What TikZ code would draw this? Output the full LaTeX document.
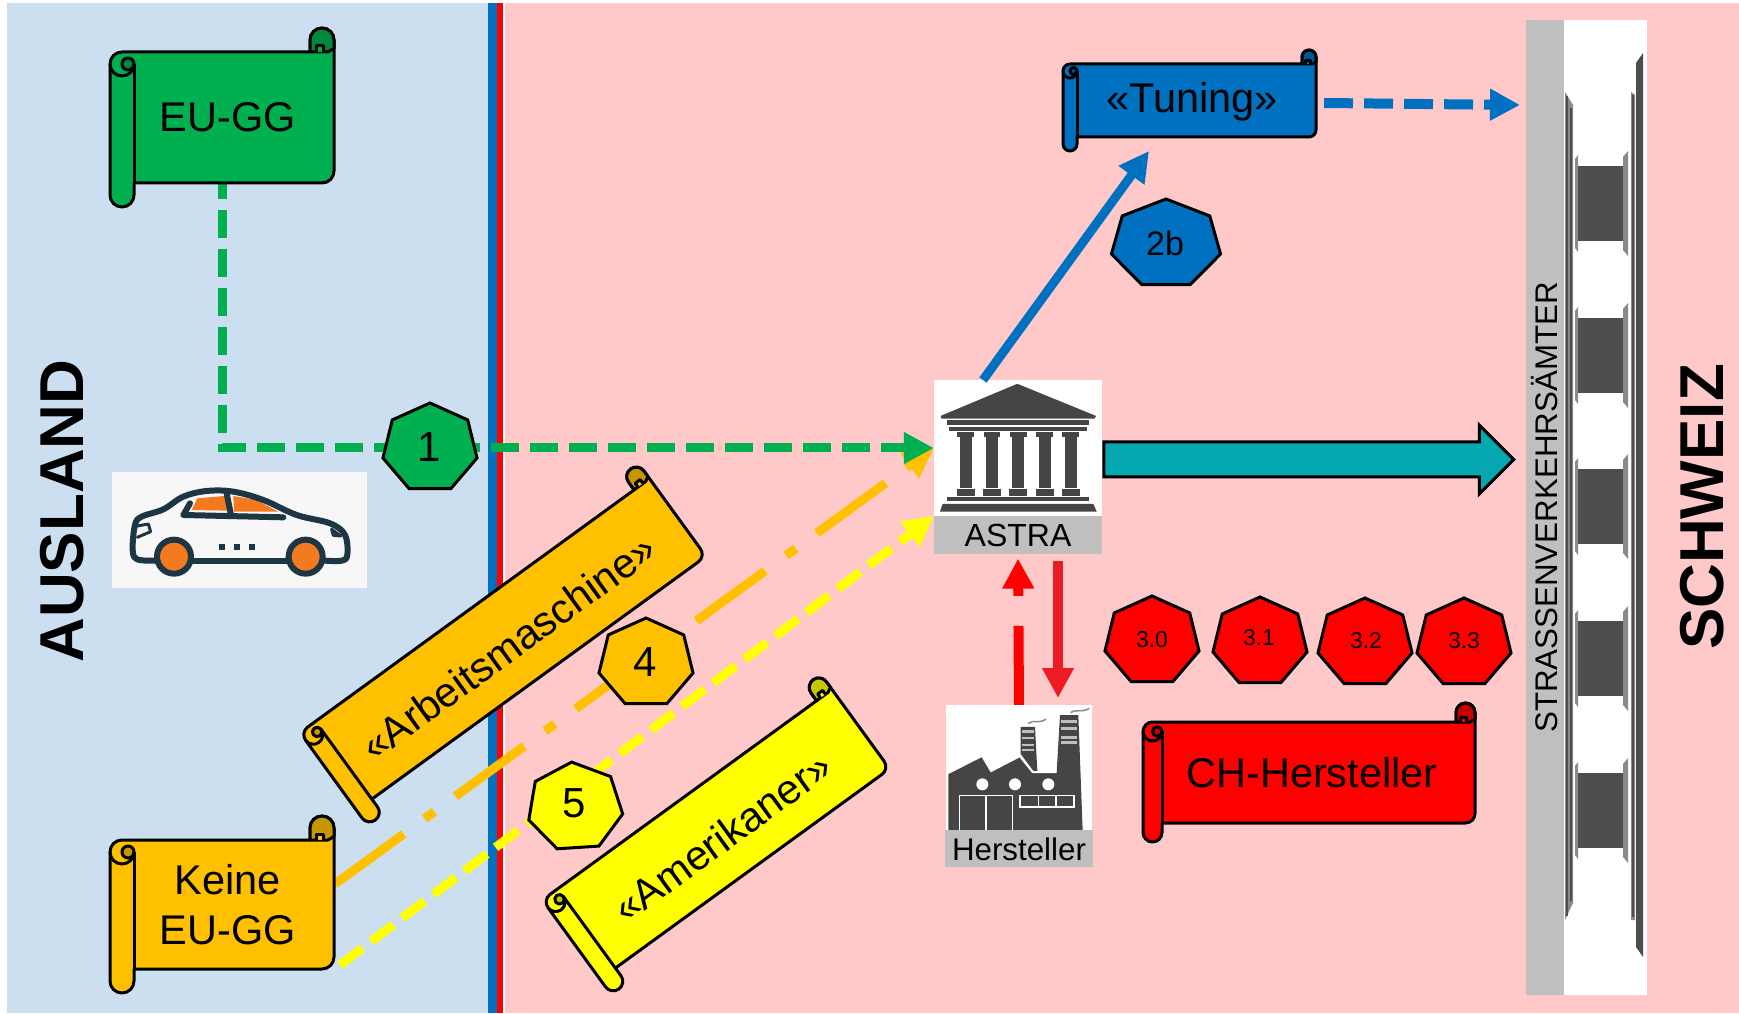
\documentclass[tikz,border=0pt]{standalone}
\usepackage{fontspec}
\setmainfont{Liberation Sans}
\usetikzlibrary{arrows.meta,shapes.geometric,shapes.arrows}

\definecolor{auslandblue}{HTML}{CBDFF1}
\definecolor{schweizpink}{HTML}{FFC9C9}
\definecolor{lawgreen}{HTML}{00B050}
\definecolor{lawblue}{HTML}{0070C0}
\definecolor{laworange}{HTML}{FFC000}
\definecolor{lawyellow}{HTML}{FFFF00}
\definecolor{lawred}{HTML}{FF0000}
\definecolor{downred}{HTML}{ED1C24}
\definecolor{flowteal}{HTML}{05A8B0}
\definecolor{labelgray}{HTML}{BFBFBF}
\definecolor{icondark}{HTML}{454545}
\definecolor{roaddark}{HTML}{4D4D4D}
\definecolor{railgray}{HTML}{8A8A8A}
\definecolor{carback}{HTML}{F7F7F7}
\definecolor{carline}{HTML}{1D3644}
\definecolor{carorange}{HTML}{F47A1F}

\tikzset{
  scrollline/.style = {draw=black, line width=3pt, line join=round},
  scrolltext/.style = {inner sep=0pt, align=center, text=black, font=\fontsize{41.5}{50}\selectfont},
  hepta/.style = {regular polygon, regular polygon sides=7, minimum size=100pt, inner sep=0pt,
                  draw=black, line width=3pt, transform shape, xscale=.965, yscale=.9},
  badgetext/.style = {inner sep=0pt, font=\fontsize{42}{50}\selectfont},
  smalltext/.style = {inner sep=0pt, font=\fontsize{23}{28}\selectfont},
  sidetitle/.style = {inner sep=0pt, rotate=90, font=\fontsize{62}{70}\selectfont\bfseries},
  iconbox/.style = {fill=white, inner sep=0pt},
  iconlabel/.style = {fill=labelgray, inner sep=0pt, anchor=north},
  icon/.style = {x=.3333pt, y=-.3333pt},
  icontall/.style = {x=.3333pt, y=-.338pt},
  flowline/.style = {line width=9pt, dash pattern=on 28pt off 11pt},
  carstroke/.style = {draw=carline, line width=6pt, line cap=round, line join=round}
}

% scroll with its centre at the origin: width, height, roll width, colour
\newcommand{\scrollshape}[4]{%
  \pgfmathsetmacro\scrxr{#1/2}
  \pgfmathsetmacro\scrxl{-#1/2}
  \pgfmathsetmacro\scryt{#2/2}
  \pgfmathsetmacro\scryb{-#2/2}
  \pgfmathsetmacro\scrr{#3/2}
  \pgfmathsetmacro\scrq{#3/4}
  \pgfmathsetmacro\scrxm{\scrxl+#3}
  \pgfmathsetmacro\scrym{\scryb+#3}
  \pgfmathsetmacro\scryn{\scryt-#3}
  \pgfmathsetmacro\scrxc{\scrxr-#3}
  \draw[scrollline, fill=#4] (\scrxm,\scrym) -- (\scrxr-\scrr,\scrym)
    arc[start angle=-90, end angle=0, radius=\scrr] -- (\scrxr,\scryt-\scrr)
    arc[start angle=0, end angle=180, radius=\scrr] -- (\scrxc,\scryn)
    -- (\scrxl+\scrr,\scryn) arc[start angle=90, end angle=180, radius=\scrr]
    -- (\scrxl,\scryb+\scrr) arc[start angle=180, end angle=360, radius=\scrr] -- cycle;
  % curl at the top right
  \draw[scrollline, fill=#4!78!black] (\scrxc,\scryn) -- (\scrxc,\scryt-\scrr)
    arc[start angle=180, end angle=0, radius=\scrr] -- (\scrxr,\scryn+\scrq*.6) -- (\scrxr-\scrq,\scryn) -- cycle;
  \draw[scrollline, fill=#4] (\scrxr-\scrq*3,\scryn) -- (\scrxr-\scrq*3,\scryn+\scrq) -- (\scrxr-\scrq*1.7,\scryn+\scrq) -- (\scrxr-\scrq*1.7,\scryn);
  % roll at the left
  \draw[scrollline] (\scrxm,\scrym) -- (\scrxm,\scryn-\scrr);
  \draw[scrollline, fill=#4!78!black] (\scrxl+\scrq*3,\scryn-\scrr) circle[radius=\scrq];
  \draw[scrollline] (\scrxl,\scryn-\scrr) arc[start angle=180, end angle=360, radius=\scrr];
}

\newcommand{\templecolumn}[1]{%
  \fill[icondark] ({#1-25},242) rectangle ({#1+25},258);
  \fill[icondark] ({#1-18},258) rectangle ({#1+18},408);
  \fill[icondark] ({#1-27},410) rectangle ({#1+27},432);
}

\newcommand{\roadblock}[1]{%
  \fill[roaddark] (1578,#1) rectangle (1623,{#1-75});
  \fill[railgray] (1575,{#1+7}) -- (1578,{#1+11}) -- (1578,{#1-86}) -- (1575,{#1-82}) -- cycle;
  \fill[railgray] (1623,{#1+9}) -- (1628,{#1+15}) -- (1628,{#1-90}) -- (1623,{#1-84}) -- cycle;
}

\begin{document}
\begin{tikzpicture}[x=1pt, y=1pt, >={Triangle[length=30pt,width=30pt]}]
  \useasboundingbox (0,0) rectangle (1739,1013);

  % the two countries and the border
  \fill[auslandblue] (7,0) rectangle (488,1010);
  \fill[schweizpink] (505,0) rectangle (1739,1010);
  \fill[lawblue] (488,0) rectangle (497,1010);
  \fill[lawred] (497,0) rectangle (503,1010);

  \node[sidetitle] (ausland) at (62,502) {AUSLAND};
  \node[sidetitle] (schweiz) at (1702,506) {SCHWEIZ};

  % road
  \fill[white] (1564,993) rectangle (1647,18);
  \fill[railgray] (1565,921) -- (1573,908) -- (1573,110) -- (1565,93) -- cycle;
  \fill[roaddark] (1566,917) rectangle (1568,97);
  \fill[roaddark] (1570,905) rectangle (1572,112);
  \fill[railgray] (1631,921) -- (1635,918) -- (1635,93) -- (1631,93) -- cycle;
  \fill[roaddark] (1632,918) rectangle (1634,96);
  \fill[roaddark] (1636,950) -- (1643,960) -- (1643,56) -- (1636,66) -- cycle;
  \roadblock{847}
  \roadblock{695}
  \roadblock{544}
  \roadblock{392}
  \roadblock{240}
  \node[fill=labelgray, inner sep=0pt, rotate=90, minimum width=975pt, minimum height=38pt,
        font=\fontsize{31.3}{36}\selectfont] (amt) at (1545,505.5) {STRASSENVERKEHRSÄMTER};

  % car
  \node[fill=carback, inner sep=0pt, minimum width=255pt, minimum height=116pt] (car) at (239.5,483) {};
  \begin{scope}[shift={(100,553)}, icon]
    \fill[carorange] (275,150) -- (292,115) -- (375,108) -- (385,152) -- cycle;
    \fill[carorange] (400,108) -- (470,120) -- (535,155) -- (402,155) -- cycle;
    \draw[carstroke] plot[smooth, tension=.6] coordinates {(165,302) (112,298) (98,270) (105,195) (125,170) (190,148) (250,110) (320,93) (400,95) (490,120) (590,165) (690,190) (735,225) (742,285) (725,302) (675,302)};
    \draw[carstroke] (280,302) -- (560,302);
    \draw[carstroke] (270,130) -- (250,165) -- (550,172);
    \draw[carstroke] (380,100) -- (392,160);
    \draw[carstroke, line width=3pt] (112,198) -- (145,192) -- (152,215) -- (112,232);
    \draw[carstroke, line width=3pt] (695,208) -- (722,228) -- (700,226) -- cycle;
    \draw[carstroke, fill=carorange] (222,290) circle[radius=17pt];
    \draw[carstroke, fill=carorange] (617,290) circle[radius=17pt];
    \fill[carline] (358,251) rectangle (376,269);
    \fill[carline] (401,251) rectangle (419,269);
    \fill[carline] (446,251) rectangle (464,269);
  \end{scope}

  % astra and the teal arrow
  \node[single arrow, single arrow head extend=17pt, single arrow head indent=0pt, minimum width=66pt,
        minimum height=410pt, inner sep=0pt, fill=flowteal, draw=black, line width=3pt] (flow) at (1300,553.5) {\rule{0pt}{32pt}};
  \node[iconbox, minimum width=168pt, minimum height=136pt] (astra) at (1018,565) {};
  \node[iconlabel, minimum width=168pt, minimum height=38pt, font=\fontsize{32}{36}\selectfont] (astralabel) at (astra.south) {ASTRA};
  \begin{scope}[shift={(900,663)}, icontall]
    \fill[icondark] (352,100) -- (588,195) -- (584,203) -- (124,203) -- (122,195) -- cycle;
    \fill[icondark] (140,208) rectangle (568,222);
    \fill[icondark] (148,228) rectangle (562,240);
    \templecolumn{197}
    \templecolumn{276}
    \templecolumn{355}
    \templecolumn{434}
    \templecolumn{512}
    \fill[icondark] (140,436) rectangle (568,448);
    \fill[icondark] (128,455) -- (580,455) -- (590,478) -- (120,478) -- cycle;
  \end{scope}

  % factory
  \node[iconbox, minimum width=146pt, minimum height=125pt] (factory) at (1019,245.5) {};
  \node[iconlabel, minimum width=148pt, minimum height=37pt, font=\fontsize{31.3}{36}\selectfont] (factorylabel) at (factory.south) {Hersteller};
  \begin{scope}[shift={(900,663)}, icontall]
    \fill[icondark] (145,1420) -- (145,1255) -- (245,1205) -- (272,1250) -- (360,1205) -- (400,1250)
      -- (470,1250) -- (480,1080) -- (535,1080) -- (548,1420) -- cycle;
    \fill[icondark] (362,1115) -- (405,1115) -- (412,1245) -- (400,1245) -- (362,1195) -- cycle;
    \draw[white, line width=1.5pt] (360,1203) -- (398,1250) -- (470,1250);
    \fill[white] (247,1285) circle[radius=6pt];
    \fill[white] (345,1285) circle[radius=6pt];
    \fill[white] (445,1285) circle[radius=6pt];
    \draw[white, line width=1.5pt] (178,1420) -- (178,1318) -- (338,1318) -- (338,1420);
    \draw[white, line width=1.5pt] (258,1318) -- (258,1420);
    \draw[white, line width=1.5pt] (360,1318) rectangle (522,1352);
    \draw[white, line width=1.5pt] (415,1318) -- (415,1352);
    \draw[white, line width=1.5pt] (468,1318) -- (468,1352);
    \fill[labelgray] (484,1095) rectangle (530,1104);
    \fill[labelgray] (484,1115) rectangle (530,1124);
    \fill[labelgray] (482,1143) rectangle (532,1152);
    \fill[labelgray] (482,1158) rectangle (532,1167);
    \fill[labelgray] (366,1125) rectangle (402,1132);
    \fill[labelgray] (366,1145) rectangle (402,1152);
    \fill[labelgray] (366,1165) rectangle (402,1172);
    \fill[labelgray] (366,1180) rectangle (402,1187);
    \draw[railgray, line width=1.5pt] (385,1105) .. controls (400,1092) and (415,1108) .. (438,1092);
    \draw[railgray, line width=1.5pt] (512,1073) .. controls (530,1060) and (545,1075) .. (568,1060);
  \end{scope}

  % connectors
  \coordinate (euggout) at (222,829);
  \coordinate (keineouta) at (335,129);
  \coordinate (keineoutb) at (340,48);
  \coordinate (astraout) at (983,633);
  \coordinate (tuningin) at (1149,862);
  \coordinate (tuningout) at (1324,910);
  \coordinate (amtin) at (1520,908);
  \coordinate (redtop) at (1058,452);
  \coordinate (redbot) at (1058,315);
  \draw[->, draw=laworange, line width=9pt, dash pattern=on 85pt off 26pt on 12pt off 26pt] (keineouta) -- (astra.west);
  \draw[->, draw=lawgreen, flowline, dash phase=13pt] (euggout) -- (euggout |- astra.west) -- (astra.west);
  \draw[->, draw=lawyellow, flowline] (keineoutb) -- (astra.south west);
  \draw[->, draw=lawblue, line width=9pt] (astraout) -- (tuningin);
  \draw[->, draw=lawblue, line width=10pt, dash pattern=on 29pt off 11pt] (tuningout) -- (amtin);
  \draw[->, draw=lawred, line width=10pt, dash pattern=on 79pt off 30pt on 300pt off 0pt, shorten >=4pt] (factory.north) -- (astralabel.south);
  \draw[->, draw=downred, line width=10pt] (redtop) -- (redbot);

  % scrolls
  \begin{scope}[shift={(222,895.5)}]
    \scrollshape{224}{179}{24}{lawgreen}
    \node[scrolltext] (eugg) at (6,0) {EU-GG};
  \end{scope}
  \begin{scope}[shift={(222,108.5)}]
    \scrollshape{224}{177}{24}{laworange}
    \node[scrolltext] (keine) at (6,0) {Keine\\EU-GG};
  \end{scope}
  \begin{scope}[shift={(1189.5,912.5)}]
    \scrollshape{253}{101}{14}{lawblue}
    \node[scrolltext] (tuning) at (2.5,-1.5) {«Tuning»};
  \end{scope}
  \begin{scope}[shift={(1309,240.5)}]
    \scrollshape{332}{139}{19}{lawred}
    \node[scrolltext] (chhersteller) at (3,0) {CH-Hersteller};
  \end{scope}
  \begin{scope}[shift={(503,368.5)}, rotate=36]
    \scrollshape{432}{134}{19}{laworange}
    \node[scrolltext, transform shape] (arbeit) at (2.6,-5) {«Arbeitsmaschine»};
  \end{scope}
  \begin{scope}[shift={(716,178.6)}, rotate=36]
    \scrollshape{358}{136}{19}{lawyellow}
    \node[scrolltext, transform shape] (amerikaner) at (3.3,-5.6) {«Amerikaner»};
  \end{scope}

  % numbers
  \node[hepta, fill=lawgreen] (one) at (430,565) {};
  \node[badgetext] (onetext) at (429,566) {1};
  \node[hepta, fill=lawblue, xscale=1.16] (twob) at (1166,769) {};
  \node[badgetext, font=\fontsize{34}{40}\selectfont] (twobtext) at (1165,770) {2b};
  \node[hepta, fill=lawred] (threezero) at (1152,372) {};
  \node[smalltext] (threezerotext) at (1152,373) {3.0};
  \node[hepta, fill=lawred] (threeone) at (1260,371) {};
  \node[smalltext] (threeonetext) at (1259,375) {3.1};
  \node[hepta, fill=lawred] (threetwo) at (1365,370) {};
  \node[smalltext] (threetwotext) at (1366,372) {3.2};
  \node[hepta, fill=lawred] (threethree) at (1464,370) {};
  \node[smalltext] (threethreetext) at (1464,372) {3.3};
  \node[hepta, fill=laworange] (four) at (646,350) {};
  \node[badgetext] (fourtext) at (645,351) {4};
  \node[hepta, fill=lawyellow, rotate=4] (five) at (575,206) {};
  \node[badgetext] (fivetext) at (574,210) {5};
\end{tikzpicture}
\end{document}
